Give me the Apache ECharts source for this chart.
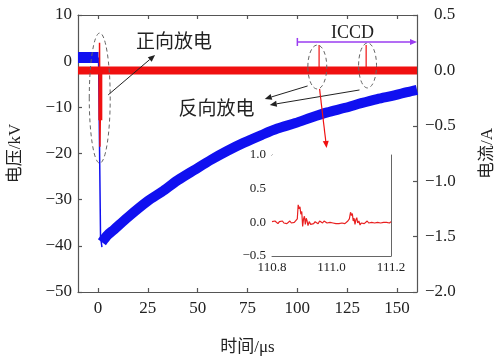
<!DOCTYPE html>
<html>
<head>
<meta charset="utf-8">
<script src="https://cdn.jsdelivr.net/npm/echarts@6/dist/echarts.min.js"></script>
<style>
  html, body { margin: 0; padding: 0; background: #fff; }
  #chart { width: 497px; height: 359px; }
</style>
</head>
<body>
<div id="chart"></div>
<script>
// ---- voltage (kV) ----
const preTime = [-10, 0.3];
const preVolt = [0.8, 0.8];
const fallTime = [0.3, 1.1, 1.3, 2.0];
const fallVolt = [0.8, 0.8, -38, -40.3];
const recTime = [2, 5, 8, 15, 25, 32, 40, 48.6, 57, 65, 73, 82, 90, 99, 107, 115, 124, 132, 140, 148.6, 155, 160];
const recVolt = [-39.2, -37.6, -36.5, -33.8, -30.3, -28.3, -25.8, -23.5, -21.3, -19.4, -17.7, -16.0, -14.6, -13.4, -12.2, -11.1, -10.1, -9.1, -8.2, -7.4, -6.7, -6.2];

// ---- current (A) ----
const curTime = [-10, 160];
const curVal = [0, 0];
const pulseTime = [0.8, 0.8, 1.0, 1.2];
const pulseVal = [0, 0.25, -0.69, -0.40];
const pulseCoreTime = [1.2, 1.2];
const pulseCoreVal = [0, -0.45];
const reverseTimes = [110.9, 134.5];
const reverseTops = [0.23, 0.23];

// ---- zoomed current around 111 us ----
const insetTime = [110.800, 110.805, 110.810, 110.815, 110.820, 110.825, 110.830, 110.835, 110.840, 110.845,
  110.850, 110.855, 110.860, 110.865, 110.870, 110.875, 110.880, 110.885, 110.888, 110.891,
  110.894, 110.897, 110.900, 110.903, 110.906, 110.909, 110.912, 110.915, 110.918, 110.921,
  110.925, 110.930, 110.935, 110.940, 110.945, 110.950, 110.955, 110.960, 110.965, 110.970,
  110.975, 110.980, 110.985, 110.990, 110.995, 111.000, 111.005, 111.010, 111.015, 111.020,
  111.025, 111.030, 111.035, 111.040, 111.045, 111.050, 111.055, 111.060, 111.064, 111.067,
  111.070, 111.073, 111.076, 111.079, 111.082, 111.085, 111.088, 111.092, 111.096, 111.100,
  111.105, 111.110, 111.115, 111.120, 111.125, 111.130, 111.135, 111.140, 111.145, 111.150,
  111.155, 111.160, 111.165, 111.170, 111.175, 111.180, 111.185, 111.190, 111.195, 111.200];
const insetCur = [0.01, -0.01, 0.02, 0.00, -0.02, 0.01, 0.00, 0.02, -0.01, 0.01,
  -0.02, 0.00, 0.02, -0.01, 0.01, 0.00, 0.02, 0.05, 0.26, 0.20,
  0.23, 0.12, 0.16, -0.06, 0.05, 0.09, -0.03, 0.06, 0.02, -0.05,
  0.01, -0.03, -0.01, -0.02, 0.01, 0.00, -0.02, 0.02, 0.01, -0.01,
  0.02, 0.01, -0.01, 0.01, 0.00, 0.02, -0.01, 0.01, -0.02, -0.04,
  -0.02, 0.00, -0.01, 0.01, -0.02, 0.00, 0.02, 0.05, 0.15, 0.10,
  0.13, 0.02, 0.06, -0.03, 0.04, 0.07, -0.01, 0.02, -0.04, -0.01,
  0.01, -0.02, 0.00, 0.02, -0.01, 0.01, 0.00, 0.02, -0.01, 0.01,
  0.00, 0.02, -0.01, 0.01, 0.00, 0.02, 0.00, 0.01, -0.01, 0.01];

// ---- tick values ----
const timeTicks = [0, 25, 50, 75, 100, 125, 150];

const pairs = (xs, ys) => xs.map((x, i) => [x, ys[i]]);
const minus = s => s.replace('-', '\u2212');

const SERIF = '"Liberation Serif", "Times New Roman", serif';
const MIXED = '"Liberation Serif", "Noto Sans CJK SC", serif';
const AXIS = '#555';
const BLUE = '#1010f0';
const RED = '#f01010';

const frameLine = { show: true, onZero: false, lineStyle: { color: AXIS, width: 1.2 } };
const insetLine = { show: true, onZero: false, lineStyle: { color: '#666', width: 1 } };
const inTick = len => ({ show: true, inside: true, length: len, lineStyle: { color: AXIS, width: 1.2 } });
const insetTick = { show: true, inside: true, length: 3, lineStyle: { color: '#666' } };

const chart = echarts.init(document.getElementById('chart'), null, { renderer: 'canvas' });

const option = {
  animation: false,
  backgroundColor: '#fff',
  grid: [
    { left: 78, right: 80, top: 15, bottom: 67, outerBoundsMode: 'none', containLabel: false },
    { left: 272, right: 106, top: 155, bottom: 103, outerBoundsMode: 'none', containLabel: false,
      show: true, backgroundColor: '#fff', borderWidth: 0, z: 5 }
  ],
  xAxis: [
    {
      type: 'value', gridIndex: 0, min: -10, max: 160,
      axisLine: frameLine, splitLine: { show: false },
      axisTick: Object.assign(inTick(4), { customValues: timeTicks }),
      axisLabel: { customValues: timeTicks, fontFamily: SERIF, fontSize: 17, color: '#222', margin: 8 },
      name: '时间/μs', nameLocation: 'middle', nameGap: 47,
      nameTextStyle: { fontFamily: MIXED, fontSize: 17, color: '#222' }
    },
    {
      type: 'value', gridIndex: 0, min: -10, max: 160, position: 'top',
      axisLine: frameLine, splitLine: { show: false },
      axisTick: Object.assign(inTick(4), { customValues: timeTicks }),
      axisLabel: { show: false }
    },
    {
      type: 'value', gridIndex: 1, min: 110.8, max: 111.2, interval: 0.1,
      axisLine: insetLine, splitLine: { show: false }, axisTick: insetTick,
      axisLabel: {
        fontFamily: SERIF, fontSize: 13, color: '#222', margin: 5, showMinLabel: true, showMaxLabel: true,
        formatter: v => (Math.round(v * 10) % 2 === 0 ? v.toFixed(1) : '')
      }
    },
    {
      type: 'value', gridIndex: 1, min: 110.8, max: 111.2, interval: 0.1, position: 'top',
      axisLine: insetLine, splitLine: { show: false }, axisTick: insetTick,
      axisLabel: { show: false }
    }
  ],
  yAxis: [
    {
      type: 'value', gridIndex: 0, min: -50, max: 10, interval: 10,
      axisLine: frameLine, splitLine: { show: false }, axisTick: inTick(4),
      axisLabel: { fontFamily: SERIF, fontSize: 17, color: '#222', margin: 6, formatter: v => minus(String(v)) },
      name: '电压/kV', nameLocation: 'middle', nameGap: 54, nameRotate: 90,
      nameTextStyle: { fontFamily: MIXED, fontSize: 17, color: '#222' }
    },
    {
      type: 'value', gridIndex: 0, min: -2, max: 0.5, interval: 0.5, position: 'right',
      axisLine: frameLine, splitLine: { show: false }, axisTick: inTick(4),
      axisLabel: {
        fontFamily: SERIF, fontSize: 17, color: '#222', margin: 8, align: 'left',
        formatter: v => (v < 0 ? minus(v.toFixed(1)) : '{pad|}' + v.toFixed(1)),
        rich: { pad: { width: 9 } }
      },
      name: '电流/A', nameLocation: 'middle', nameGap: 62, nameRotate: 90,
      nameTextStyle: { fontFamily: MIXED, fontSize: 17, color: '#222' }
    },
    {
      type: 'value', gridIndex: 1, min: -0.5, max: 1, interval: 0.5,
      axisLine: insetLine, splitLine: { show: false }, axisTick: insetTick,
      axisLabel: { fontFamily: SERIF, fontSize: 13, color: '#222', margin: 6, formatter: v => minus(v.toFixed(1)) }
    },
    {
      type: 'value', gridIndex: 1, min: -0.5, max: 1, interval: 0.5, position: 'right',
      axisLine: insetLine, splitLine: { show: false }, axisTick: insetTick,
      axisLabel: { show: false }
    }
  ],
  series: [
    // voltage
    { type: 'line', xAxisIndex: 0, yAxisIndex: 0, data: pairs(preTime, preVolt), showSymbol: false,
      lineStyle: { color: BLUE, width: 11, cap: 'butt' } },
    { type: 'line', xAxisIndex: 0, yAxisIndex: 0, data: pairs(fallTime, fallVolt), showSymbol: false,
      lineStyle: { color: BLUE, width: 1.5 } },
    { type: 'line', xAxisIndex: 0, yAxisIndex: 0, data: pairs(recTime, recVolt), showSymbol: false, smooth: 0.3,
      lineStyle: { color: BLUE, width: 10, cap: 'butt' } },
    // current
    { type: 'line', xAxisIndex: 0, yAxisIndex: 1, data: pairs(curTime, curVal), showSymbol: false,
      lineStyle: { color: RED, width: 8, cap: 'butt' } },
    { type: 'line', xAxisIndex: 0, yAxisIndex: 1, data: pairs(pulseTime, pulseVal), showSymbol: false,
      lineStyle: { color: RED, width: 1.5 } },
    { type: 'line', xAxisIndex: 0, yAxisIndex: 1, data: pairs(pulseCoreTime, pulseCoreVal), showSymbol: false,
      lineStyle: { color: RED, width: 4, cap: 'butt' } },
    ...reverseTimes.map((t, i) => ({
      type: 'line', xAxisIndex: 0, yAxisIndex: 1, data: [[t, 0], [t, reverseTops[i]]], showSymbol: false,
      lineStyle: { color: RED, width: 1.2 }
    })),
    // zoomed current
    { type: 'line', xAxisIndex: 2, yAxisIndex: 2, data: pairs(insetTime, insetCur), showSymbol: false, z: 6,
      lineStyle: { color: '#e82020', width: 1.2 } }
  ]
};

chart.setOption(option);

// ---- annotations, anchored in (time, kV) ----
const px = (t, v) => chart.convertToPixel({ xAxisIndex: 0, yAxisIndex: 0 }, [t, v]);

function arrow(a, b, color, head, half, width) {
  const dx = b[0] - a[0], dy = b[1] - a[1];
  const len = Math.hypot(dx, dy), ux = dx / len, uy = dy / len;
  const base = [b[0] - ux * head, b[1] - uy * head];
  return [
    { type: 'line', shape: { x1: a[0], y1: a[1], x2: base[0], y2: base[1] },
      style: { stroke: color, lineWidth: width }, z: 20 },
    { type: 'polygon', shape: { points: [b, [base[0] - uy * half, base[1] + ux * half], [base[0] + uy * half, base[1] - ux * half]] },
      style: { fill: color }, z: 20 }
  ];
}

function ellipse(t, v, rt, rv) {
  const c = px(t, v), e = px(t + rt, v + rv);
  return { type: 'ellipse', shape: { cx: c[0], cy: c[1], rx: Math.abs(e[0] - c[0]), ry: Math.abs(c[1] - e[1]) },
    style: { fill: 'none', stroke: '#666', lineWidth: 1, lineDash: [4, 3] }, z: 20 };
}

function label(t, v, text, size) {
  const p = px(t, v);
  return { type: 'text', x: p[0], y: p[1], z: 20,
    style: { text, fill: '#222', fontSize: size, fontFamily: MIXED, align: 'center', verticalAlign: 'middle' } };
}

const PURPLE = '#9a3cf0';
const iccdA = px(100, 4.16), iccdB = px(160, 4.16);

const graphic = [
  ellipse(0.9, -8.0, 5.25, 14.1),
  ellipse(110.0, -1.26, 4.75, 4.76),
  ellipse(135.2, -0.93, 4.5, 4.87),
  ...arrow(px(5.15, -7.3), px(28.65, 1.34), '#222', 7, 3, 1),
  ...arrow(px(105.15, -5.37), px(83.65, -8.19), '#222', 7, 3, 1),
  ...arrow(px(131.15, -6.24), px(86.15, -9.49), '#222', 7, 3, 1),
  ...arrow(px(111.15, -6.02), px(114.65, -18.8), RED, 7, 3, 1.2),
  ...arrow(iccdA, iccdB, PURPLE, 7, 3, 1.5),
  { type: 'line', shape: { x1: iccdA[0], y1: iccdA[1] - 4, x2: iccdA[0], y2: iccdA[1] + 4 },
    style: { stroke: PURPLE, lineWidth: 1.5 }, z: 20 },
  label(127.6, 6.1, 'ICCD', 18),
  label(38.2, 3.95, '正向放电', 19),
  label(59.4, -10.55, '反向放电', 19)
];

chart.setOption({ graphic });
</script>
</body>
</html>
